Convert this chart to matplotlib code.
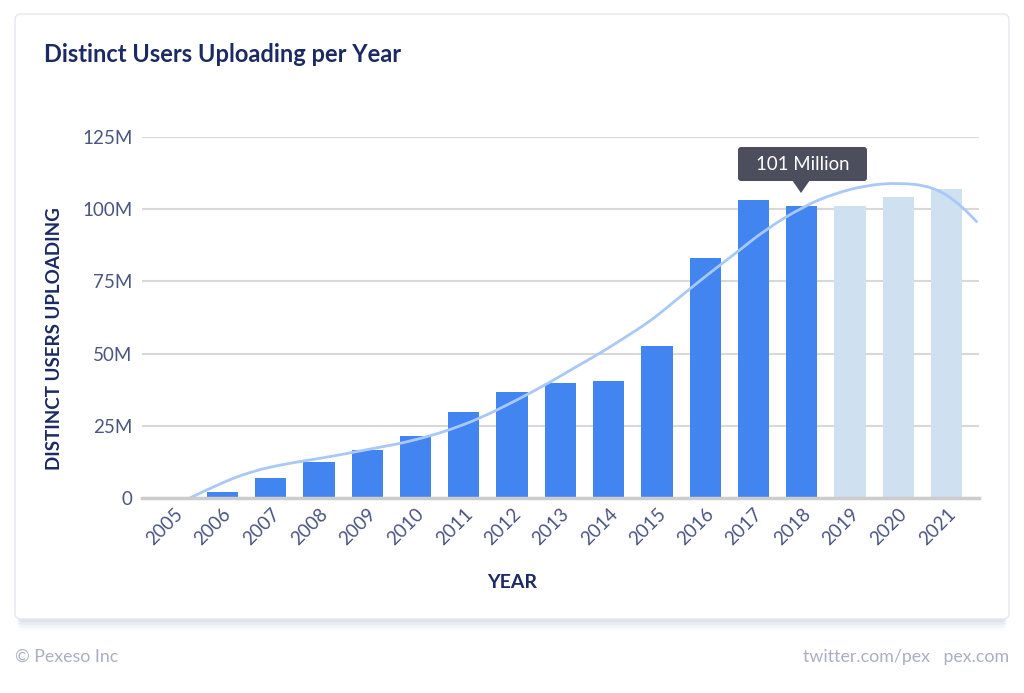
import matplotlib
matplotlib.use("Agg")
import matplotlib.pyplot as plt
from matplotlib.patches import FancyBboxPatch, Polygon, PathPatch
from matplotlib.path import Path
import numpy as np

years = ["2005", "2006", "2007", "2008", "2009", "2010", "2011", "2012", "2013",
         "2014", "2015", "2016", "2017", "2018", "2019", "2020", "2021"]
users_m = [0, 2.0, 6.8, 12.4, 16.6, 21.6, 29.7, 36.8, 39.9, 40.6, 52.5, 83.2,
           103.2, 101.0, 101.0, 104.2, 107.0]
projected = [False] * 14 + [True] * 3

# trend curve (x in year-index units, y in millions)
trend_x = [0.33, 0.95, 1.64, 2.33, 2.99, 3.64, 4.33, 4.75, 5.30, 5.71, 6.34, 7.10,
           7.78, 8.30, 8.82, 9.34, 9.86, 10.27, 10.68, 11.17, 11.65, 12.27, 13.03,
           13.65, 14.34, 15.03, 15.72, 16.27, 16.62]
trend_y = [0, 5.1, 9.4, 11.9, 13.6, 15.6, 17.8, 19.1, 21.5, 23.6, 27.6, 33.9,
           40.0, 45.2, 50.1, 55.6, 61.2, 66.8, 72.4, 78.9, 85.0, 93.2, 100.9,
           105.3, 108.3, 109.2, 107.8, 102.0, 95.7]

yticks = [0, 25, 50, 75, 100, 125]
ytick_labels = ["0", "25M", "50M", "75M", "100M", "125M"]

navy = "#1b2a64"
tick_col = "#4a5580"
blue = "#4285f0"
light = "#cfe0f0"

W, H = 1024, 693
fig = plt.figure(figsize=(W / 100, H / 100), dpi=100)
fig.patch.set_facecolor("white")

# card with shadow
bg = fig.add_axes([0, 0, 1, 1])
bg.set_xlim(0, W)
bg.set_ylim(H, 0)
bg.axis("off")
for off, a in [(12, 0.03), (9, 0.05), (6, 0.07), (3, 0.09)]:
    bg.add_patch(FancyBboxPatch((15 + 3, 14 + off), 994 - 6, 605,
                                boxstyle="round,pad=0,rounding_size=6",
                                fc="#7a84ad", ec="none", alpha=a))
bg.add_patch(FancyBboxPatch((15, 14), 994, 605,
                            boxstyle="round,pad=0,rounding_size=6",
                            fc="white", ec="#e4e7ef", lw=1))
bg.text(44, 55, "Distinct Users Uploading per Year", fontsize=17, fontweight="bold",
        color=navy, family="Lato", va="center", ha="left")
bg.text(15, 657, "© Pexeso Inc", fontsize=12.8, color="#aab0c2", family="Lato",
        va="center", ha="left")
bg.text(1009, 657, "twitter.com/pex   pex.com", fontsize=12.8, color="#aab0c2",
        family="Lato", va="center", ha="right")
bg.text(55, 339, "DISTINCT USERS UPLOADING", fontsize=13.5, fontweight="bold",
        color=navy, family="Lato", rotation=90, ha="center", va="center")
bg.text(512, 583, "YEAR", fontsize=14, fontweight="bold", color=navy,
        family="Lato", ha="center", va="center")

ax = fig.add_axes([141.7 / W, 1 - 498 / H, (979 - 141.7) / W, (498 - 137) / H])
ax.set_facecolor("none")
x = np.arange(len(years))
colors = [light if p else blue for p in projected]
ax.bar(x, users_m, width=0.65, color=colors, zorder=3)

# smooth rendering of the trend: quadratic Bezier through midpoints
pts = list(zip(trend_x, trend_y))
verts = [pts[0]]
codes = [Path.MOVETO]
for i in range(1, len(pts) - 1):
    mid = ((pts[i][0] + pts[i + 1][0]) / 2, (pts[i][1] + pts[i + 1][1]) / 2)
    if i == len(pts) - 2:
        mid = pts[-1]
    verts += [pts[i], mid]
    codes += [Path.CURVE3, Path.CURVE3]
ax.add_patch(PathPatch(Path(verts, codes), fc="none", ec="#a9c8f7", lw=2,
                       zorder=4, capstyle="round"))

ax.set_xlim(-0.67, 16.67)
ax.set_ylim(0, 125)
ax.set_yticks(yticks)
ax.set_yticklabels(ytick_labels)
ax.set_xticks(x)
ax.set_xticklabels(years, rotation=45, ha="right", rotation_mode="anchor")
for lab in ax.get_xticklabels() + ax.get_yticklabels():
    lab.set_color(tick_col)
    lab.set_fontsize(13.5)
    lab.set_family("Lato")
ax.tick_params(axis="both", length=0)
ax.tick_params(axis="y", pad=6.5)
ax.tick_params(axis="x", pad=5)
ax.grid(axis="y", color="#d8d8d8", lw=1.5, zorder=0)
for s in ["top", "right", "left"]:
    ax.spines[s].set_visible(False)
ax.spines["bottom"].set_color("#cccccc")
ax.spines["bottom"].set_linewidth(2.5)
ax.spines["bottom"].set_zorder(5)

# tooltip on 2018
bg.add_patch(FancyBboxPatch((738, 147), 129, 34,
                            boxstyle="round,pad=0,rounding_size=3",
                            fc="#4c4d5d", ec="none", zorder=10))
bg.add_patch(Polygon([(792, 180), (810, 180), (801, 193)], closed=True,
                     fc="#4c4d5d", ec="none", zorder=10))
bg.text(802.5, 164, "101 Million", color="white", fontsize=13.4, family="Lato",
        ha="center", va="center", zorder=11)

fig.savefig("out.png", dpi=100, facecolor="white")
